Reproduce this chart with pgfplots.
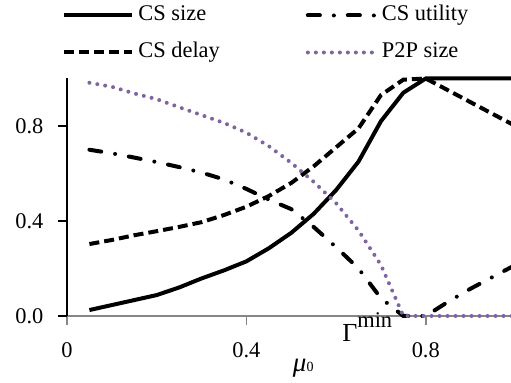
\documentclass[border=0pt]{standalone}
\usepackage{fontspec}
\setmainfont{Liberation Serif}
\usepackage{pgfplots}
\pgfplotsset{compat=1.18}
\usepackage{pgfplotstable}
\definecolor{ppurple}{RGB}{128,100,162}
\definecolor{axgray}{RGB}{134,134,134}

\pgfplotstableread{
x     size   delay  util   p2p
0.05  0.025  0.303  0.700  0.982
0.10  0.046  0.320  0.685  0.965
0.15  0.067  0.340  0.667  0.937
0.20  0.088  0.357  0.648  0.913
0.25  0.120  0.375  0.627  0.879
0.30  0.158  0.395  0.604  0.846
0.35  0.192  0.425  0.575  0.813
0.40  0.230  0.460  0.535  0.772
0.45  0.285  0.505  0.490  0.715
0.50  0.350  0.560  0.450  0.645
0.55  0.430  0.630  0.375  0.565
0.60  0.530  0.710  0.290  0.475
0.65  0.650  0.790  0.200  0.360
0.70  0.820  0.930  0.075  0.215
0.75  0.940  0.995  0.000  0.000
0.80  1.000  1.000  0.000  0.000
0.85  1.000  0.950  0.060  0.000
0.90  1.000  0.900  0.115  0.000
0.95  1.000  0.850  0.165  0.000
1.00  1.000  0.800  0.215  0.000
}\datatable

\begin{document}
\begin{tikzpicture}[font=\fontsize{11.2}{13.4}\selectfont]
\begin{axis}[
  scale only axis,
  width=222pt, height=118.75pt,
  xmin=0, xmax=0.99, ymin=0, ymax=1,
  clip=false,
  axis x line*=bottom, axis y line*=left,
  x axis line style={axgray, line width=1pt, -},
  y axis line style={black, line width=1pt, -},
  xtick={0,0.4,0.8}, ytick={0,0.4,0.8},
  tick align=outside,
  major tick length=4.5pt,
  x tick style={axgray, line width=0.8pt},
  y tick style={black, line width=0.8pt},
  /pgf/number format/assume math mode=true,
  yticklabel style={/pgf/number format/fixed, /pgf/number format/fixed zerofill, /pgf/number format/precision=1, xshift=-3.8pt},
  xticklabel style={yshift=-5.3pt},
  legend columns=2,
  legend cell align=left,
  legend image code/.code={\draw[#1] (0pt,0pt) -- (34pt,0pt);},
  legend style={at={(rel axis cs:-0.0113,1.328)}, anchor=north west, draw=none, fill=none, inner sep=0pt,
    nodes={inner sep=2pt, text height=8pt, text depth=2.5pt},
    row sep=4pt,
    /tikz/every even column/.append style={column sep=41pt}},
]
\addplot[black, line width=2pt] table[x=x, y=size] {\datatable};
\addlegendentry{CS size}
\addplot[black, line width=2pt, line cap=round, dash pattern=on 6pt off 7pt on 0pt off 7pt] table[x=x, y=util] {\datatable};
\addlegendentry{CS utility}
\addplot[black, line width=2pt, dash pattern=on 5pt off 2.5pt] table[x=x, y=delay] {\datatable};
\addlegendentry{CS delay}
\addplot[ppurple, line width=2pt, line cap=round, dash pattern=on 0pt off 4pt] table[x=x, y=p2p] {\datatable};
\addlegendentry{P2P size}
\node[anchor=base west, inner sep=0pt] at (axis cs:0.613,-0.109) {{\fontsize{13}{15}\selectfont Γ}\raisebox{7pt}{min}};
\node[anchor=base west, inner sep=0pt] at (axis cs:0.503,-0.232) {{\fontsize{13.5}{15}\selectfont\textit{μ}}\raisebox{0pt}{\fontsize{7}{8}\selectfont 0}};
\coordinate (O) at (axis cs:0,0);
\end{axis}
\pgfresetboundingbox
\path (O) ++(-33.5pt,-33.5pt) rectangle ++(255.5pt,191.5pt);
\end{tikzpicture}
\end{document}
